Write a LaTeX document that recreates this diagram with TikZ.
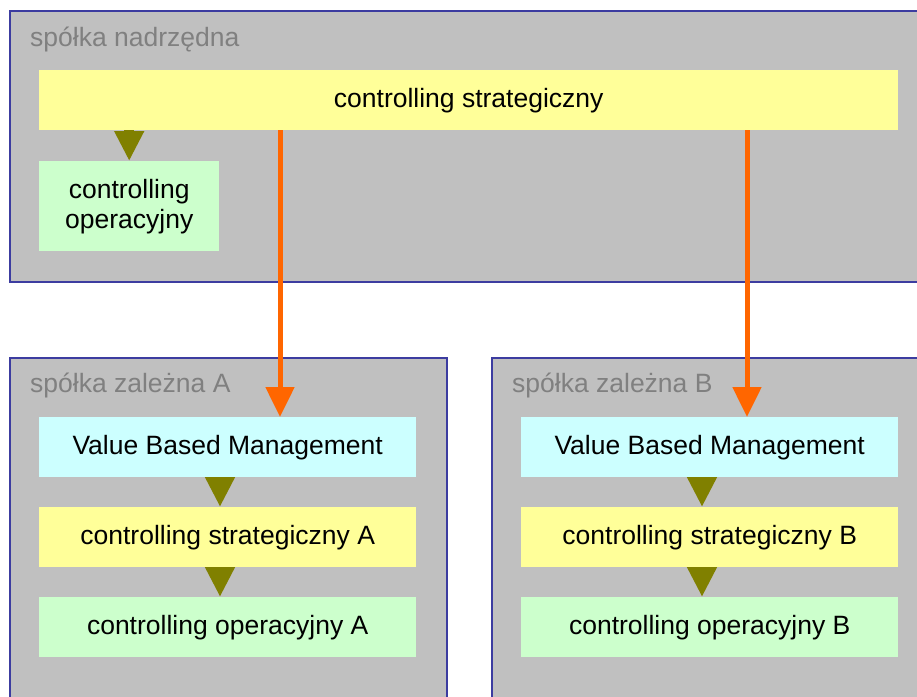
\documentclass[tikz,border=0pt]{standalone}
\usepackage{fontspec}
\setmainfont{Liberation Sans}
\usetikzlibrary{arrows.meta}

\definecolor{panelgray}{RGB}{192,192,192}
\definecolor{panelborder}{RGB}{60,60,160}
\definecolor{paleyellow}{RGB}{255,255,153}
\definecolor{palegreen}{RGB}{204,255,204}
\definecolor{palecyan}{RGB}{204,255,255}
\definecolor{olivearrow}{RGB}{128,128,0}
\definecolor{orangearrow}{RGB}{255,102,0}
\definecolor{labelgray}{RGB}{128,128,128}

\begin{document}
\begin{tikzpicture}[x=1pt, y=-1pt,
  font=\fontsize{26.5}{30}\selectfont,
  panel/.style={draw=panelborder, line width=1.5pt, fill=panelgray,
    anchor=north west, inner sep=0pt, minimum height=360pt},
  panellabel/.style={anchor=base west, inner sep=0pt, text=labelgray},
  card/.style={anchor=north west, inner sep=0pt, minimum height=60pt,
    align=center, text=black},
  yellowcard/.style={card, fill=paleyellow},
  greencard/.style={card, fill=palegreen},
  cyancard/.style={card, fill=palecyan},
  flowarrow/.style={draw=olivearrow, line width=10pt,
    -{Triangle[length=30pt, width=28pt]}},
  linkarrow/.style={draw=orangearrow, line width=5pt,
    -{Triangle[length=30pt, width=28pt]}}]

\useasboundingbox (0,0) rectangle (917,696);
\clip (0,0) rectangle (917,696);

% parent company
\node[panel, minimum width=930pt, minimum height=271pt] (parent) at (9,10) {};
\node[panellabel] (parentlabel) at (30,46) {spółka nadrzędna};
\node[yellowcard, minimum width=859pt] (strat) at (39,70) {controlling strategiczny};
\node[greencard, minimum width=180pt, minimum height=90pt] (oper) at (39,161)
  {controlling\\operacyjny};

% subsidiary A
\node[panel, minimum width=437pt] (subA) at (9,357) {};
\node[panellabel] (subAlabel) at (30,392) {spółka zależna A};
\node[cyancard, minimum width=377pt] (vbmA) at (39,417) {Value Based Management};
\node[yellowcard, minimum width=377pt] (stratA) at (39,507) {controlling strategiczny A};
\node[greencard, minimum width=377pt] (operA) at (39,597) {controlling operacyjny A};

% subsidiary B
\node[panel, minimum width=440pt] (subB) at (491,357) {};
\node[panellabel] (subBlabel) at (512,392) {spółka zależna B};
\node[cyancard, minimum width=377pt] (vbmB) at (521,417) {Value Based Management};
\node[yellowcard, minimum width=377pt] (stratB) at (521,507) {controlling strategiczny B};
\node[greencard, minimum width=377pt] (operB) at (521,597) {controlling operacyjny B};

% arrow columns
\coordinate (colA) at (220,0);
\coordinate (colB) at (702,0);
\coordinate (linkA) at (280,0);
\coordinate (linkB) at (747,0);

% flow inside the parent company
\draw[flowarrow] (strat.south -| oper.north) -- (oper.north);

% flow inside the subsidiaries
\draw[flowarrow] (vbmA.south -| colA) -- (stratA.north -| colA);
\draw[flowarrow] (stratA.south -| colA) -- (operA.north -| colA);
\draw[flowarrow] (vbmB.south -| colB) -- (stratB.north -| colB);
\draw[flowarrow] (stratB.south -| colB) -- (operB.north -| colB);

% links from parent strategy to subsidiaries
\draw[linkarrow] (strat.south -| linkA) -- (vbmA.north -| linkA);
\draw[linkarrow] (strat.south -| linkB) -- (vbmB.north -| linkB);
\end{tikzpicture}
\end{document}
